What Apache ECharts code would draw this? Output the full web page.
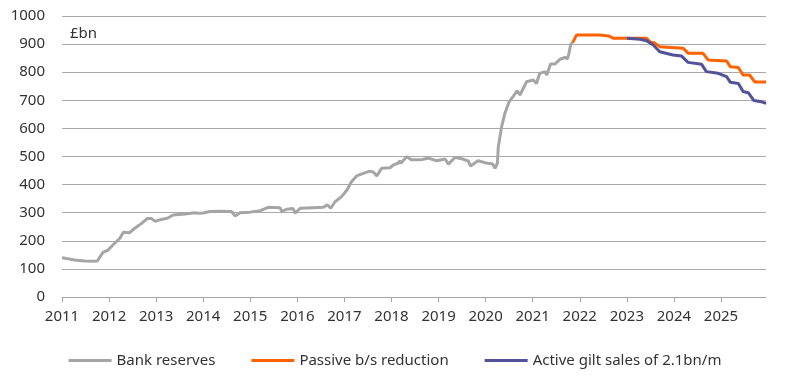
<!DOCTYPE html>
<html>
<head>
<meta charset="utf-8">
<script src="https://cdn.jsdelivr.net/npm/echarts@6/dist/echarts.min.js"></script>
<style>
html,body{margin:0;padding:0;background:#fff;}
#chart{width:790px;height:383px;}
</style>
</head>
<body>
<div id="chart"></div>
<script>
// Years as decimal dates
var reservesYears = [2011.00,2011.10,2011.27,2011.48,2011.69,2011.75,2011.87,2011.98,2012.08,2012.23,2012.30,2012.44,2012.54,2012.69,2012.81,2012.90,2012.98,2013.11,2013.25,2013.36,2013.61,2013.82,2013.89,2014.00,2014.14,2014.36,2014.60,2014.68,2014.78,2014.99,2015.21,2015.38,2015.63,2015.67,2015.77,2015.91,2015.95,2016.06,2016.34,2016.55,2016.64,2016.71,2016.80,2016.94,2017.05,2017.15,2017.26,2017.40,2017.54,2017.61,2017.69,2017.79,2017.97,2018.04,2018.14,2018.18,2018.20,2018.32,2018.43,2018.61,2018.78,2018.96,2019.14,2019.21,2019.35,2019.53,2019.63,2019.68,2019.84,2019.99,2020.09,2020.15,2020.20,2020.25,2020.27,2020.34,2020.41,2020.50,2020.59,2020.67,2020.73,2020.87,2021.01,2021.08,2021.15,2021.26,2021.30,2021.38,2021.47,2021.58,2021.69,2021.74,2021.77,2021.81,2021.85];
var reservesValues = [140,137,132,128,127,128,159,167,185,209,230,229,244,262,279,279,269,276,281,292,295,300,298,299,304,305,304,288,300,302,307,319,318,305,312,315,298,316,318,319,328,316,339,357,380,410,431,440,448,445,431,458,460,470,476,485,476,499,488,488,494,485,491,473,497,490,484,466,485,478,475,473,458,476,535,606,654,695,715,734,719,766,772,760,796,802,790,829,829,846,853,847,867,900,905];

var passiveYears = [2021.85,2021.93,2022.43,2022.61,2022.71,2023.42,2023.50,2023.58,2023.70,2024.20,2024.31,2024.62,2024.73,2025.12,2025.20,2025.37,2025.47,2025.61,2025.72,2025.96];
var passiveValues = [905,932,932,929,921,921,907,905,891,885,867,867,843,840,819,817,790,790,765,765];

var activeYears = [2023.00,2023.28,2023.42,2023.56,2023.70,2023.98,2024.16,2024.30,2024.59,2024.69,2024.94,2025.12,2025.20,2025.37,2025.47,2025.58,2025.70,2025.83,2025.96];
var activeValues = [921,917,912,897,873,861,858,835,828,802,796,784,764,760,731,727,699,696,689];

var yearTicks = [2011,2012,2013,2014,2015,2016,2017,2018,2019,2020,2021,2022,2023,2024,2025];
var seriesNames = ['Bank reserves','Passive b/s reduction','Active gilt sales of 2.1bn/m'];
var unitLabel = '£bn';

function pairs(xs, ys){ return xs.map(function(x,i){ return [x, ys[i]]; }); }

var FONT = '"Noto Sans", sans-serif';
var chart = echarts.init(document.getElementById('chart'), null, {renderer:'canvas'});
chart.setOption({
  animation:false,
  backgroundColor:'#fff',
  grid:{left:62,right:24,top:16,bottom:86,containLabel:false},
  graphic:[{type:'text',left:70,top:26,style:{text:unitLabel,fill:'#333',font:'15px ' + FONT}}],
  legend:{
    bottom:10,left:'center',itemWidth:43,itemHeight:3,itemGap:36,icon:'rect',
    textStyle:{fontFamily:FONT,fontSize:15,color:'#333'},
    data:seriesNames
  },
  xAxis:{
    type:'value',min:2011,max:2025.957,interval:1,
    axisLine:{show:true,lineStyle:{color:'#A6A6A6',width:1}},
    axisTick:{show:true,length:5,lineStyle:{color:'#A6A6A6'},customValues:yearTicks},
    axisLabel:{customValues:yearTicks,fontFamily:FONT,fontSize:15,color:'#333',margin:12,formatter:function(v){return String(v);}},
    splitLine:{show:false}
  },
  yAxis:{
    type:'value',min:0,max:1000,interval:100,
    axisLine:{show:false},axisTick:{show:false},
    axisLabel:{fontFamily:FONT,fontSize:15,color:'#333',margin:17,formatter:function(v){return String(v);}},
    splitLine:{lineStyle:{color:'#AAAAAA',width:1}}
  },
  series:[
    {name:seriesNames[0],type:'line',symbol:'none',data:pairs(reservesYears,reservesValues),lineStyle:{color:'#A5A5A5',width:3},itemStyle:{color:'#A5A5A5'}},
    {name:seriesNames[1],type:'line',symbol:'none',data:pairs(passiveYears,passiveValues),lineStyle:{color:'#FF6200',width:3},itemStyle:{color:'#FF6200'}},
    {name:seriesNames[2],type:'line',symbol:'none',data:pairs(activeYears,activeValues),lineStyle:{color:'#525199',width:3},itemStyle:{color:'#525199'}}
  ]
});
</script>
</body>
</html>
